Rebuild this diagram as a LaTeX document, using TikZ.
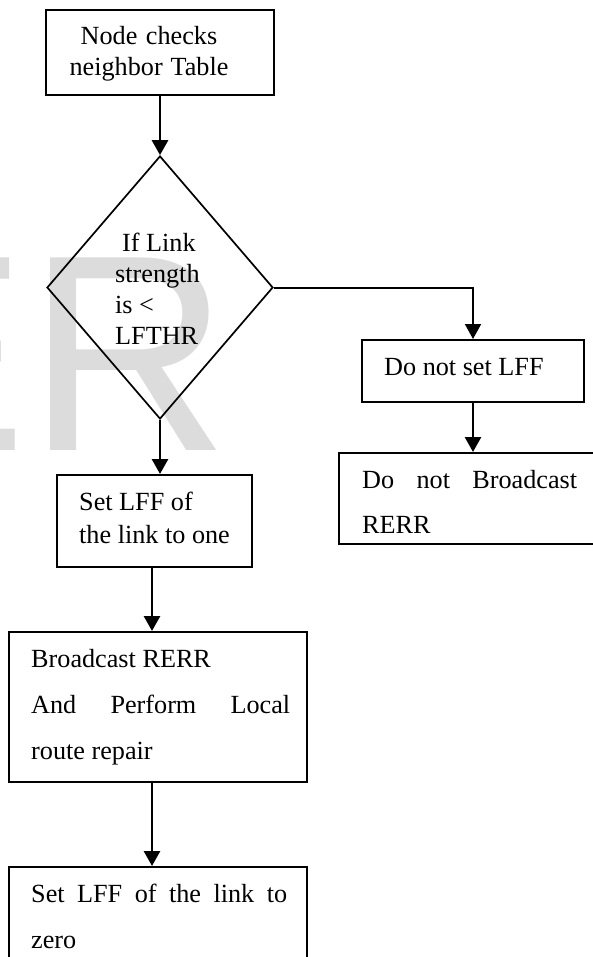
\documentclass[tikz,border=0pt]{standalone}
\usepackage{fontspec}
\setmainfont{Liberation Serif}
\newfontfamily\markfont{Liberation Sans}
\usetikzlibrary{arrows.meta,shapes.geometric}
\definecolor{markgray}{RGB}{220,220,220}
\setlength\parindent{0pt}
% natural interword spaces inside aligned node text
\newcommand\plainsp{\spaceskip=0pt\xspaceskip=0pt}
\newcommand\bodyfont[1]{\fontsize{26.2}{#1}\selectfont}

\begin{document}
\begin{tikzpicture}[x=1pt,y=-1pt,
  box/.style={draw, rectangle, line width=2pt, inner sep=0pt},
  decision/.style={draw, diamond, line width=1.7pt, inner sep=0pt},
  txt/.style={inner sep=0pt, anchor=base west, align=left},
  arr/.style={-{Triangle[width=16pt,length=15pt]}, line width=2.8pt},
  wm/.style={inner sep=0pt, anchor=base west, text=markgray,
             font=\markfont\fontsize{280}{280}\selectfont}]
\useasboundingbox (0,0) rectangle (593,957);

% faint watermark letters behind the chart
\node[wm] (wmE) at (-160,450) {E};
\node[wm] (wmR) at (27,450) {R};

% boxes
\node[box, minimum width=228pt, minimum height=85pt]  (b1)  at (160,52.5) {};
\node[decision, minimum width=226pt, minimum height=263pt] (dia) at (160,287.5) {};
\node[box, minimum width=222pt, minimum height=62pt]  (b2)  at (473,371) {};
\node[box, minimum width=262pt, minimum height=91pt]  (b3)  at (470,498.5) {};
\node[box, minimum width=195pt, minimum height=92pt]  (b4)  at (154.5,521) {};
\node[box, minimum width=298pt, minimum height=150pt] (b5)  at (158,707) {};
\node[box, minimum width=298pt, minimum height=113pt] (b6)  at (158,923.5) {};

% texts
\node[txt, anchor=base, align=center, text width=200pt, font=\bodyfont{31}] (t1) at (149,45)
  {\plainsp Node checks\\neighbor Table};
\node[txt, text width=110pt, font=\bodyfont{30.7}] (tdia) at (115,252)
  {\plainsp\hspace*{7pt}If Link\\strength\\is <\\LFTHR};
\node[txt, font=\bodyfont{31}] (t2) at (384,375) {\plainsp Do not set LFF};
\node[txt, text width=215pt, font=\bodyfont{45}] (t3) at (362,488)
  {\plainsp\makebox[215pt][l]{Do\hfill not\hfill Broadcast}\\RERR};
\node[txt, text width=170pt, font=\bodyfont{33}] (t4) at (79,510)
  {\plainsp Set LFF of\\the link to one};
\node[txt, text width=259pt, font=\bodyfont{46}] (t5) at (31,667)
  {\plainsp Broadcast RERR\\\makebox[259pt][l]{And\hfill Perform\hfill Local}\\route repair};
\node[txt, text width=256pt, font=\bodyfont{46}] (t6) at (31,902)
  {\plainsp\makebox[256pt][l]{Set\hfill LFF\hfill of\hfill the\hfill link\hfill to}\\zero};

% connectors
\draw[arr] (b1.south) -- (dia.north);
\draw[arr, line width=2pt] (dia.east) -| (b2.north);
\draw[arr] (b2.south) -- (b2.south |- b3.north);
\draw[arr] (dia.south) -- (dia.south |- b4.north);
\draw[arr] ([xshift=-2.5pt]b4.south) -- ([xshift=-2.5pt]b4.south |- b5.north);
\draw[arr] ([xshift=-6pt]b5.south) -- ([xshift=-6pt]b5.south |- b6.north);
\end{tikzpicture}
\end{document}
